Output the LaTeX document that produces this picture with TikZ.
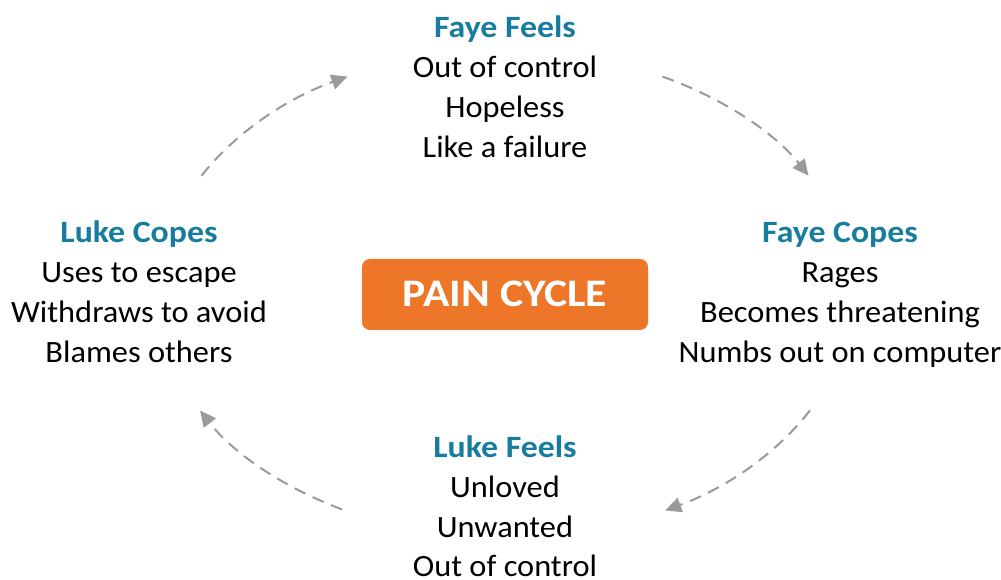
\documentclass[tikz,border=0pt]{standalone}
\usepackage{fontspec}
\setmainfont{Carlito}
\newfontfamily\bodyf[FakeStretch=1.045]{Carlito}
\newfontfamily\titlef[FakeStretch=1.09]{Carlito}
\newfontfamily\boxf[FakeStretch=1.12]{Carlito}
\usetikzlibrary{arrows.meta}
\definecolor{teal}{HTML}{177C9E}
\definecolor{orng}{HTML}{EE7628}
\definecolor{arrgray}{HTML}{9A9A9A}
\tikzset{
  title/.style={anchor=base, text=teal, font=\titlef\fontsize{31}{31}\selectfont\bfseries, inner sep=0pt},
  body/.style={anchor=base, text=black, font=\bodyf\fontsize{31}{31}\selectfont, inner sep=0pt},
  cyc/.style={draw=arrgray, line width=2pt, dash pattern=on 12pt off 8pt, -{Triangle[length=16pt,width=15pt]}},
}
\begin{document}
\begin{tikzpicture}[x=1pt,y=1pt]
\useasboundingbox (0,0) rectangle (1001,580);
% center box
\node[fill=orng, rounded corners=8pt, minimum width=286pt, minimum height=71pt, inner sep=0pt] (box) at (505,285.5) {};
\node[anchor=base, text=white, font=\boxf\fontsize{39}{39}\selectfont\bfseries, inner sep=0pt] (pc) at (505,273) {PAIN CYCLE};
% top group
\node[title] (t1) at (505,542) {Faye Feels};
\node[body] (t2) at (505,502) {Out of control};
\node[body] (t3) at (505,462) {Hopeless};
\node[body] (t4) at (505,422) {Like a failure};
% right group
\node[title] (r1) at (840,337) {Faye Copes};
\node[body] (r2) at (840,297) {Rages};
\node[body] (r3) at (840,257) {Becomes threatening};
\node[body] (r4) at (840,217) {Numbs out on computer};
% bottom group
\node[title] (b1) at (505,122) {Luke Feels};
\node[body] (b2) at (505,82) {Unloved};
\node[body] (b3) at (505,42) {Unwanted};
\node[body] (b4) at (505,3) {Out of control};
% left group
\node[title] (l1) at (139,337) {Luke Copes};
\node[body] (l2) at (139,297) {Uses to escape};
\node[body] (l3) at (139,257) {Withdraws to avoid};
\node[body] (l4) at (139,217) {Blames others};
% cycle arrows
\coordinate (c) at (505,286);
\draw[cyc] (c) ++(151:347 and 244) arc[start angle=151, end angle=117, x radius=347pt, y radius=244pt];
\draw[cyc] (c) ++(63:347 and 244) arc[start angle=63, end angle=29, x radius=347pt, y radius=244pt];
\draw[cyc] (c) ++(-28.5:347 and 244) arc[start angle=-28.5, end angle=-62.5, x radius=347pt, y radius=244pt];
\draw[cyc] (c) ++(242:347 and 244) arc[start angle=242, end angle=208.5, x radius=347pt, y radius=244pt];
\end{tikzpicture}
\end{document}
